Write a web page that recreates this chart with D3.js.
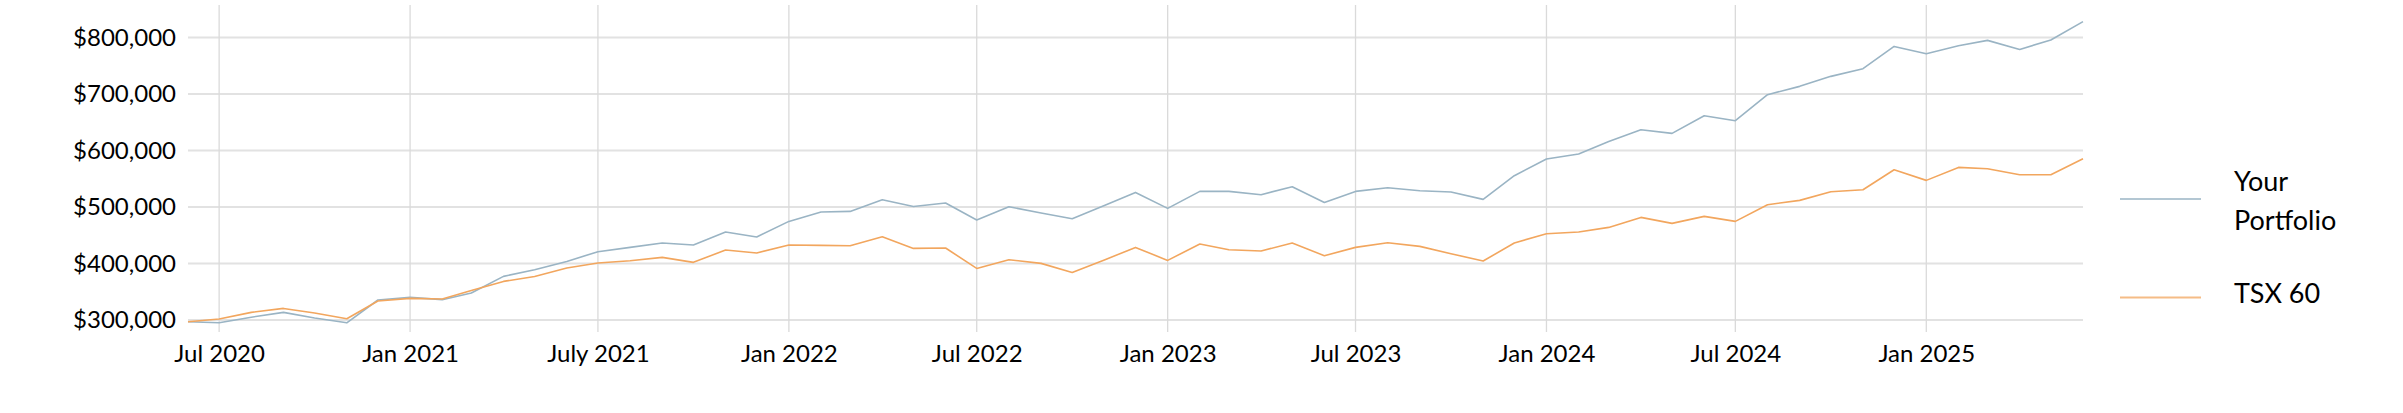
<!DOCTYPE html>
<html>
<head>
<meta charset="utf-8">
<script src="https://cdnjs.cloudflare.com/ajax/libs/d3/7.8.5/d3.min.js"></script>
<style>
    html, body { margin: 0; padding: 0; background: #fff; }
    .perf-chart text { font-family: Lato, "Open Sans", sans-serif; fill: #000; }
</style>
</head>
<body>
<div id="chart"></div>
<script>
    // monthly values, Jun 2020 .. Jun 2025
    var months = [
        '2020-06', '2020-07', '2020-08', '2020-09', '2020-10', '2020-11', '2020-12',
        '2021-01', '2021-02', '2021-03', '2021-04', '2021-05', '2021-06',
        '2021-07', '2021-08', '2021-09', '2021-10', '2021-11', '2021-12',
        '2022-01', '2022-02', '2022-03', '2022-04', '2022-05', '2022-06',
        '2022-07', '2022-08', '2022-09', '2022-10', '2022-11', '2022-12',
        '2023-01', '2023-02', '2023-03', '2023-04', '2023-05', '2023-06',
        '2023-07', '2023-08', '2023-09', '2023-10', '2023-11', '2023-12',
        '2024-01', '2024-02', '2024-03', '2024-04', '2024-05', '2024-06',
        '2024-07', '2024-08', '2024-09', '2024-10', '2024-11', '2024-12',
        '2025-01', '2025-02', '2025-03', '2025-04', '2025-05', '2025-06'
    ];

    var portfolio = [
        297000, 295000, 305000, 313500, 303500, 295000, 335400,
        340000, 336000, 347800, 377200, 389000, 403700,
        420900, 428500, 436300, 432700, 455700, 446900,
        474500, 491200, 492200, 512900, 501000, 507000,
        477000, 500500, 489400, 479300, 502800, 525800,
        497500, 527600, 527600, 521800, 535900, 508100,
        527600, 534200, 528800, 526500, 513500, 555400,
        585000, 593800, 616100, 636800, 630300, 661600,
        652700, 698800, 713500, 731200, 744800, 784200,
        771300, 785500, 794900, 778900, 795600, 828000
    ];

    var tsx60 = [
        297000, 301800, 313500, 320500, 312400, 302300, 333600,
        338200, 337100, 352400, 368300, 377000, 392000,
        400900, 405000, 410800, 402000, 423900, 418600,
        432700, 432000, 431500, 447400, 426700, 427400,
        391300, 406700, 400200, 384200, 406200, 428500,
        405500, 434500, 424400, 422100, 436300, 413800,
        428500, 436800, 430300, 417300, 404400, 436300,
        452700, 455700, 463900, 481600, 471000, 483400,
        474500, 504100, 511700, 527100, 530600, 566000,
        547100, 570100, 567800, 557200, 557200, 585500
    ];

    var yTicks = [300000, 400000, 500000, 600000, 700000, 800000];

    var xTickMonths = ['2020-07', '2021-01', '2021-07', '2022-01', '2022-07',
                       '2023-01', '2023-07', '2024-01', '2024-07', '2025-01'];
    var xTickLabels = ['Jul 2020', 'Jan 2021', 'July 2021', 'Jan 2022', 'Jul 2022',
                       'Jan 2023', 'Jul 2023', 'Jan 2024', 'Jul 2024', 'Jan 2025'];

    var seriesNames = ['Your Portfolio', 'TSX 60'];
    var seriesColors = ['#9ab4c4', '#f2a65e'];

    var parseMonth = d3.timeParse('%Y-%m');

    var fullWidth = 2403,
        fullHeight = 413,
        margin = {top: 5, right: 320, bottom: 93, left: 188},
        width = fullWidth - margin.left - margin.right,
        height = fullHeight - margin.top - margin.bottom;

    var series = [portfolio, tsx60].map(function(vals, i) {
        return {
            name: seriesNames[i],
            color: seriesColors[i],
            values: vals.map(function(v, j) {
                return {date: parseMonth(months[j]), value: v};
            })
        };
    });

    var svg = d3.select('#chart').append('svg')
        .attr('class', 'perf-chart')
        .attr('width', fullWidth)
        .attr('height', fullHeight)
    .append('g')
        .attr('transform', 'translate(' + margin.left + ',' + margin.top + ')');

    var xScale = d3.scaleTime()
        .domain([parseMonth(months[0]), parseMonth(months[months.length - 1])])
        .range([0, width]);

    var yScale = d3.scaleLinear()
        .domain([300000, 857500])
        .range([height, 0]);

    // horizontal grid
    svg.selectAll('.hgrid')
        .data(yTicks).enter().append('line')
        .attr('class', 'hgrid')
        .attr('x1', 0)
        .attr('x2', width)
        .attr('y1', function(d) { return yScale(d); })
        .attr('y2', function(d) { return yScale(d); })
        .style('stroke', '#e2e2e2')
        .style('stroke-width', 2);

    // vertical grid, runs a little past the bottom line like a tick
    svg.selectAll('.vgrid')
        .data(xTickMonths).enter().append('line')
        .attr('class', 'vgrid')
        .attr('x1', function(d) { return xScale(parseMonth(d)); })
        .attr('x2', function(d) { return xScale(parseMonth(d)); })
        .attr('y1', 0)
        .attr('y2', height + 12)
        .style('stroke', '#dadada')
        .style('stroke-width', 1.3);

    var yAxis = d3.axisLeft(yScale)
        .tickValues(yTicks)
        .tickSize(0)
        .tickPadding(12)
        .tickFormat(function(d) { return '$' + d3.format(',')(d); });

    svg.append('g')
        .attr('class', 'y-axis')
        .call(yAxis)
        .call(function(g) { g.select('.domain').remove(); })
        .selectAll('text')
        .style('font-size', '24px');

    var xAxis = d3.axisBottom(xScale)
        .tickValues(xTickMonths.map(parseMonth))
        .tickSize(0)
        .tickPadding(0)
        .tickFormat(function(d, i) { return xTickLabels[i]; });

    svg.append('g')
        .attr('class', 'x-axis')
        .attr('transform', 'translate(0,' + height + ')')
        .call(xAxis)
        .call(function(g) { g.select('.domain').remove(); })
        .selectAll('text')
        .attr('dy', null)
        .attr('y', 42)
        .style('font-size', '24px');

    var line = d3.line()
        .x(function(d) { return xScale(d.date); })
        .y(function(d) { return yScale(d.value); });

    svg.selectAll('.series')
        .data(series).enter().append('path')
        .attr('class', 'series')
        .attr('d', function(d) { return line(d.values); })
        .style('fill', 'none')
        .style('stroke', function(d) { return d.color; })
        .style('stroke-width', 1.6)
        .style('stroke-linejoin', 'round');

    // legend
    var legend = d3.select('.perf-chart').append('g')
        .attr('class', 'legend')
        .attr('transform', 'translate(2120,0)');

    var legendRows = [
        {lineY: 199, lines: ['Your', 'Portfolio'], textY: 191},
        {lineY: 297.5, lines: ['TSX 60'], textY: 303}
    ];

    legendRows.forEach(function(row, i) {
        legend.append('line')
            .attr('x1', 0)
            .attr('x2', 81)
            .attr('y1', row.lineY)
            .attr('y2', row.lineY)
            .style('stroke', seriesColors[i])
            .style('stroke-opacity', 0.75)
            .style('stroke-width', 2);

        var t = legend.append('text')
            .attr('x', 114)
            .attr('y', row.textY)
            .style('font-size', '27px');

        row.lines.forEach(function(s, k) {
            t.append('tspan')
                .attr('x', 114)
                .attr('dy', k === 0 ? 0 : 38.5)
                .text(s);
        });
    });
</script>
</body>
</html>
